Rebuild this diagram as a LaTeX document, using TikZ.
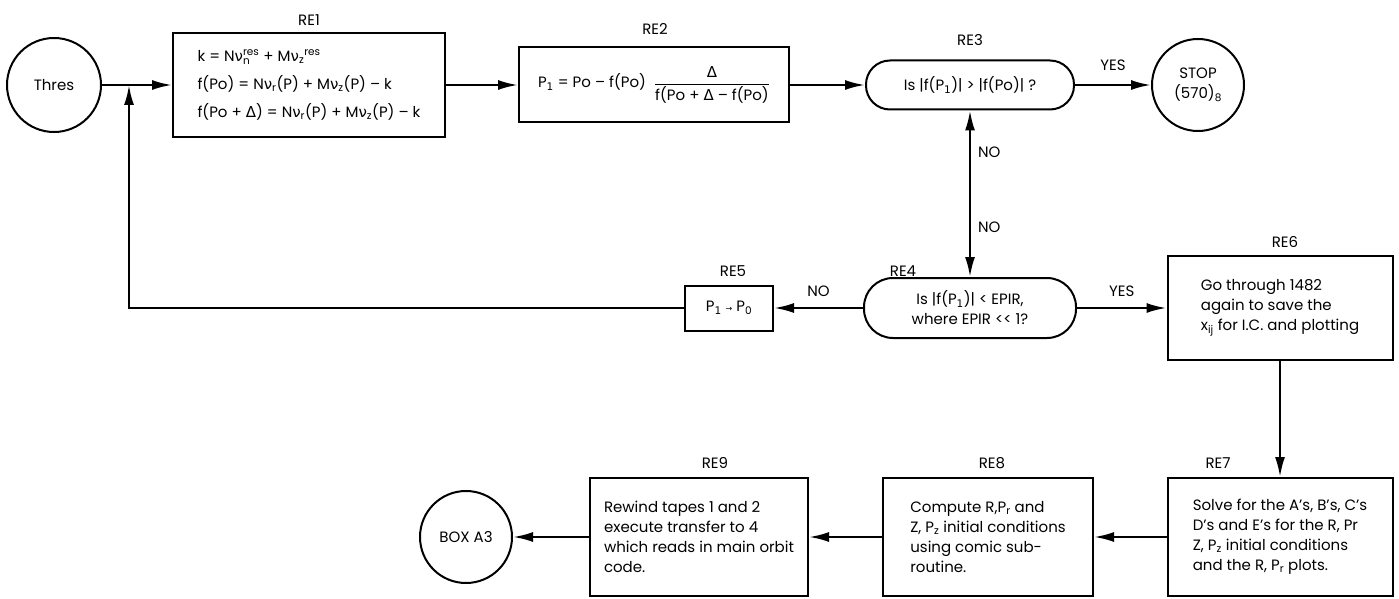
\documentclass[tikz,border=0pt]{standalone}
\usepackage{fontspec}
\usepackage{amsmath}
\setmainfont{Poppins}
\newfontfamily\grk{DejaVu Sans}
\usetikzlibrary{arrows.meta}
\newcommand\subone{$_{\text{\grk 1}}$}
\tikzset{
  every node/.style={font=\fontsize{15}{20}\selectfont},
  box/.style={draw, line width=2pt, rectangle, inner sep=0pt, align=left},
  stad/.style={draw, line width=2pt, rectangle, inner sep=0pt, align=center},
  circ/.style={draw, line width=2pt, circle, inner sep=0pt, align=center},
  lab/.style={inner sep=0pt},
  arr/.style={line width=2.3pt, -{Latex[length=20pt,width=10pt]}},
  arrtwo/.style={line width=2.3pt, {Latex[length=20pt,width=10pt]}-{Latex[length=20pt,width=10pt]}},
}
\begin{document}
\begin{tikzpicture}[x=1pt,y=-1pt]
\useasboundingbox (0,0) rectangle (1399,599);
% top row
\node[circ, minimum size=94pt] (thres) at (54,85) {Thres};
\node[box, minimum width=272pt, minimum height=104pt, font=\fontsize{15}{28}\selectfont] (re1) at (309,85)
 {k = N{\grk ν}$_{\text{n}}^{\text{res}}$ + M{\grk ν}$_{\text{z}}{}^{\text{res}}$\\
  f(Po) = N{\grk ν}$_{\text{r}}$(P) + M{\grk ν}$_{\text{z}}$(P) – k\\
  f(Po + {\grk Δ}) = N{\grk ν}$_{\text{r}}$(P) + M{\grk ν}$_{\text{z}}$(P) – k};
\node[box, minimum width=270pt, minimum height=75pt] (re2) at (654,85)
 {P\subone{} = Po – f(Po)\ \ $\dfrac{\text{\grk Δ}}{\text{f(Po + {\grk Δ} – f(Po)}}$};
\node[stad, minimum width=208pt, minimum height=49pt, rounded corners=24pt] (re3) at (970,85)
 {Is |f(P\subone)| > |f(Po)| ?};
\node[circ, minimum size=92pt] (stop) at (1198,85) {STOP\\(570)$_{\text{8}}$};
% middle row
\node[stad, minimum width=212pt, minimum height=60pt, rounded corners=29pt] (re4) at (970,308)
 {Is |f(P\subone)| < EPIR,\\where EPIR <\kern0pt< 1?};
\node[box, minimum width=88pt, minimum height=45pt] (re5) at (729,308)
 {P\subone{} {\grk\footnotesize →} P$_{\text{0}}$};
\node[box, minimum width=225pt, minimum height=104pt] (re6) at (1280,308)
 {Go through 1482\\again to save the\\x$_{\text{ij}}$ for I.C. and plotting};
% bottom row
\node[box, minimum width=225pt, minimum height=118pt] (re7) at (1280,537)
 {Solve for the A’s, B’s, C’s\\D’s and E’s for the R, Pr\\Z, P$_{\text{z}}$ initial conditions\\and the R, P$_{\text{r}}$ plots.};
\node[box, minimum width=210pt, minimum height=118pt] (re8) at (988,537)
 {Compute R,P$_{\text{r}}$ and\\Z, P$_{\text{z}}$ initial conditions\\using comic sub-\\routine.};
\node[box, minimum width=218pt, minimum height=118pt] (re9) at (699,537)
 {Rewind tapes 1 and 2\\execute transfer to 4\\which reads in main orbit\\code.};
\node[circ, minimum size=92pt] (boxa) at (466,537) {BOX A3};
% labels
\node[lab] (l1) at (309,20) {RE1};
\node[lab] (l2) at (655,29) {RE2};
\node[lab] (l3) at (970,40) {RE3};
\node[lab] (l4) at (903,271) {RE4};
\node[lab] (l5) at (733,271) {RE5};
\node[lab] (l6) at (1285,242) {RE6};
\node[lab] (l7) at (1218,463) {RE7};
\node[lab] (l8) at (992,463) {RE8};
\node[lab] (l9) at (715,463) {RE9};
% connectors
\coordinate (j) at (129,85);
\draw[arr] (thres) -- (re1);
\draw[arr] (re1) -- (re2);
\draw[arr] (re2) -- (re3);
\draw[arr] (re3) -- node[lab, midway, above=13pt] {YES} (stop);
\draw[arrtwo] (re3) -- node[lab, pos=0.25, right=7pt] {NO} node[lab, pos=0.7, right=7pt] {NO} (re4);
\draw[arr] (re4) -- node[lab, midway, above=10pt] {YES} (re6);
\draw[arr] (re4) -- node[lab, midway, above=10pt] {NO} (re5);
\draw[arr] (re5.west) -| (j);
\draw[arr] (re6) -- (re7);
\draw[arr] (re7) -- (re8);
\draw[arr] (re8) -- (re9);
\draw[arr] (re9) -- (boxa);
\end{tikzpicture}
\end{document}
